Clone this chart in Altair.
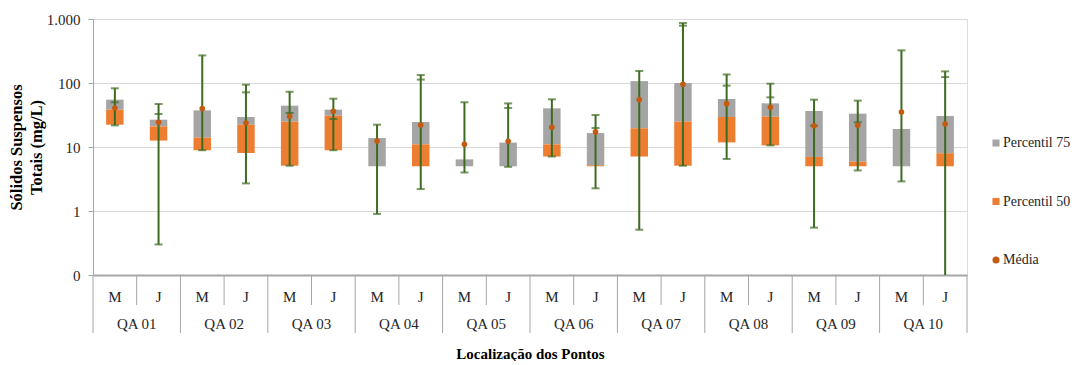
import altair as alt
import pandas as pd

groups = ["QA 01", "QA 02", "QA 03", "QA 04", "QA 05", "QA 06", "QA 07", "QA 08", "QA 09", "QA 10"]
periods = ["M", "J"]

# values per category, order: QA01 M, QA01 J, QA02 M, ...
p25 = [22.3, 12.6, 8.9, 8.05, 5.1, 8.9, 5.0, 5.0, 5.0, 5.0,
       7.1, 5.0, 7.1, 5.1, 11.8, 10.6, 5.0, 5.0, 5.0, 5.0]
p50 = [38.3, 21.0, 14.0, 22.3, 24.9, 30.9, 5.0, 11.0, 5.0, 5.0,
       11.0, 5.2, 19.6, 24.9, 29.4, 29.8, 7.0, 5.9, 5.0, 8.0]
p75 = [54.9, 26.7, 37.4, 29.4, 44.2, 38.3, 13.8, 24.6, 6.4, 11.7,
       40.2, 16.5, 107, 100, 56.2, 48.1, 36.5, 33.2, 19.1, 30.5]
media = [40.7, 24.3, 40.0, 23.7, 30.1, 36.1, 12.4, 22.1, 11.0, 12.3,
         20.3, 17.2, 54.9, 95.3, 47.5, 41.7, 21.5, 21.8, 35.2, 22.9]
vmax = [82.6, 47, 270, 94, 73, 56.9, 22.3, 133, 50, 48,
        55.6, 31.6, 154, 866, 136, 97.6, 54.9, 53, 324, 152]
vmin = [21.8, 0.30, 8.9, 2.7, 5.1, 8.9, 0.90, 2.2, 4.0, 4.9,
        7.1, 2.26, 0.51, 5.1, 6.5, 10.6, 0.55, 4.3, 2.9, 0.1]
cap2 = [49.9, 32.8, None, 71.5, 34, 27.4, None, 113, None, 40.7,
        None, 19.8, None, 787, 91, 59.7, 21.5, 24.3, None, 124]

series = ["Percentil 75", "Percentil 50", "Média"]
colors = ["#A5A5A5", "#ED7D31", "#C55A11"]
shapes = ["square", "square", "circle"]
sizes = [50, 50, 28]

cats = [f"{g}|{p}" for g in groups for p in periods]
df = pd.DataFrame({
    "cat": cats,
    "group": [g for g in groups for p in periods],
    "period": [p for g in groups for p in periods],
    "p25": p25, "p50": p50, "p75": p75,
    "media": media, "vmax": vmax, "vmin": vmin, "cap2": cap2,
})

bars_df = pd.concat([
    pd.DataFrame({"cat": cats, "lo": p50, "hi": p75, "serie": "Percentil 75"}),
    pd.DataFrame({"cat": cats, "lo": p25, "hi": p50, "serie": "Percentil 50"}),
])
groups_df = pd.DataFrame({"group": groups})
legend_df = pd.DataFrame({"serie": series})

W, H = 874, 256
FONT = "Liberation Serif"
GREEN = "#3D6B21"
SEP = "#A6A6A6"
TXT = "#262626"

xscale = alt.Scale(paddingInner=0, paddingOuter=0)
yscale = alt.Scale(type="log", domain=[0.1, 1000])
colscale = alt.Scale(domain=series, range=colors)

x_main = alt.X(
    "cat:N", sort=cats, scale=xscale,
    axis=alt.Axis(
        title="Localização dos Pontos",
        labelExpr="split(datum.label, '|')[1]",
        labelAngle=0, ticks=False, labelPadding=14,
        labelFont=FONT, labelFontSize=15, labelColor=TXT,
        titleFont=FONT, titleFontSize=15, titleFontWeight="bold", titleColor="#000000",
        titlePadding=42, domainColor=SEP, domainWidth=2, grid=False,
    ),
)
x_plain = alt.X("cat:N", sort=cats, scale=xscale)

y_axis = alt.Axis(
    values=[0.1, 1, 10, 100, 1000],
    labelExpr="datum.value >= 1000 ? '1.000' : (datum.value < 0.5 ? '0' : datum.label)",
    title=["Sólidos Suspensos", "Totais (mg/L)"],
    titleFont=FONT, titleFontSize=16.5, titleFontWeight="bold", titleColor="#000000",
    titleLineHeight=20, titlePadding=2,
    labelFont=FONT, labelFontSize=15, labelColor=TXT, labelPadding=8,
    grid=True, gridColor="#D9D9D9", tickColor=SEP, tickSize=5, domainColor=SEP,
)

bars = alt.Chart(bars_df).mark_bar(width=alt.RelativeBandSize(0.4)).encode(
    x=x_main,
    y=alt.Y("lo:Q", scale=yscale, axis=y_axis),
    y2="hi:Q",
    color=alt.Color("serie:N", scale=colscale, legend=None),
)

err = alt.Chart(df).mark_rule(color=GREEN, strokeWidth=2).encode(
    x=x_plain, y=alt.Y("vmin:Q", scale=yscale), y2="vmax:Q",
)
cap_max = alt.Chart(df).mark_tick(color=GREEN, thickness=2, size=8).encode(
    x=x_plain, y=alt.Y("vmax:Q", scale=yscale),
)
cap_min = alt.Chart(df).transform_filter("datum.vmin > 0.1").mark_tick(
    color=GREEN, thickness=2, size=8).encode(
    x=x_plain, y=alt.Y("vmin:Q", scale=yscale),
)
cap_2 = alt.Chart(df).transform_filter("isValid(datum.cap2)").mark_tick(
    color=GREEN, thickness=2, size=8).encode(
    x=x_plain, y=alt.Y("cap2:Q", scale=yscale),
)

pts = alt.Chart(df).mark_circle(color=colors[2], opacity=1, size=32).encode(
    x=x_plain,
    y=alt.Y("media:Q", scale=yscale),
)

sep_group = alt.Chart(df).transform_filter("datum.period == 'M'").mark_rule(
    color=SEP, strokeWidth=1).encode(
    x=alt.X("cat:N", sort=cats, scale=xscale, bandPosition=0),
    y=alt.value(H), y2=alt.value(H + 58),
)
sep_end = alt.Chart(df).transform_filter("datum.cat == 'QA 10|J'").mark_rule(
    color=SEP, strokeWidth=1).encode(
    x=alt.X("cat:N", sort=cats, scale=xscale, bandPosition=1),
    y=alt.value(H), y2=alt.value(H + 58),
)
sep_mj = alt.Chart(df).transform_filter("datum.period == 'J'").mark_rule(
    color=SEP, strokeWidth=1).encode(
    x=alt.X("cat:N", sort=cats, scale=xscale, bandPosition=0),
    y=alt.value(H), y2=alt.value(H + 30),
)

main = alt.layer(bars, err, cap_max, cap_min, cap_2, pts, sep_group, sep_end, sep_mj)

group_text = alt.Chart(groups_df).mark_text(
    font=FONT, fontSize=15, color=TXT, baseline="middle").encode(
    x=alt.X("group:N", sort=groups, scale=xscale, axis=None),
    y=alt.value(H + 49),
    text="group:N",
)

# legend (right side)
leg_y = alt.Y("serie:N", sort=series, axis=None,
              scale=alt.Scale(domain=series, range=[124, 241], padding=0))
legend_sym = alt.Chart(legend_df).mark_point(filled=True, opacity=1).encode(
    x=alt.value(903),
    y=leg_y,
    color=alt.Color("serie:N", scale=colscale, legend=None),
    shape=alt.Shape("serie:N", scale=alt.Scale(domain=series, range=shapes), legend=None),
    size=alt.Size("serie:N", scale=alt.Scale(domain=series, range=sizes), legend=None),
)
legend_txt = alt.Chart(legend_df).mark_text(
    font=FONT, fontSize=14, color=TXT, align="left", baseline="middle").encode(
    x=alt.value(910),
    y=leg_y,
    text="serie:N",
)
legend = alt.layer(legend_sym, legend_txt)

chart = alt.layer(main, group_text, legend).resolve_scale(
    x="independent", y="independent").properties(
    width=W, height=H,
    autosize=alt.AutoSizeParams(type="none"),
    padding={"left": 85, "top": 11, "right": 108, "bottom": 86},
).configure_view(stroke="#D9D9D9").configure(background="white")

chart.save("out.html", embed_options={"renderer": "svg", "actions": False})
